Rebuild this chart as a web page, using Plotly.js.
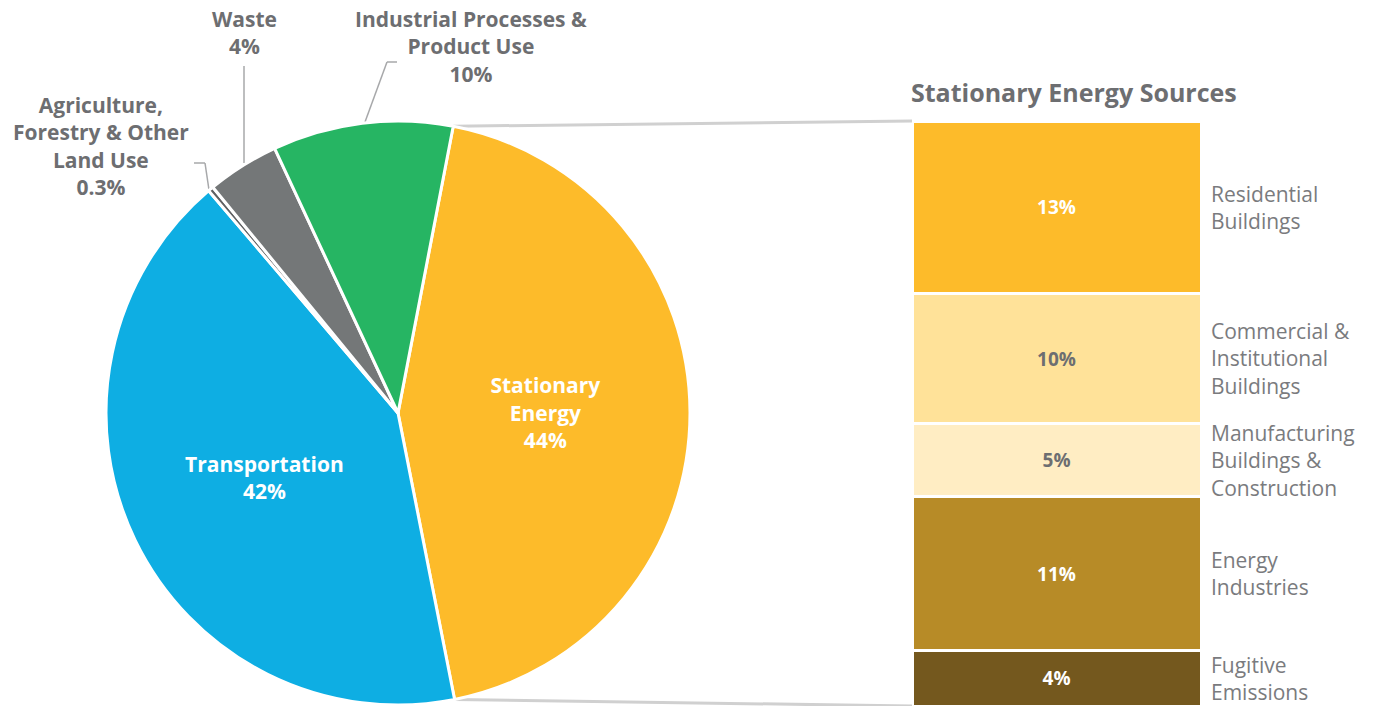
<!DOCTYPE html>
<html>
<head>
<meta charset="utf-8">
<script src="https://cdn.plot.ly/plotly-3.0.1.min.js"></script>
<style>html,body{margin:0;padding:0;background:#fff;}#chart{width:1378px;height:706px;}</style>
</head>
<body>
<div id="chart"></div>
<script>
// ---- Data ----
const pieLabels = ['Stationary Energy', 'Transportation', 'Agriculture, Forestry & Other Land Use', 'Waste', 'Industrial Processes & Product Use'];
const pieValues = [44, 42, 0.3, 4, 10];
const pieInsideText = ['Stationary<br>Energy<br>44%', 'Transportation<br>42%', '', '', ''];
const pieOutsideText = ['', '', 'Agriculture,<br>Forestry & Other<br>Land Use<br>0.3%', 'Waste<br>4%', 'Industrial Processes &<br>Product Use<br>10%'];
const pieColors = ['#FDBB2A', '#0EAEE3', '#5f6163', '#747778', '#26B563'];

const subLabels = ['Fugitive<br>Emissions', 'Energy<br>Industries', 'Manufacturing<br>Buildings &<br>Construction', 'Commercial &<br>Institutional<br>Buildings', 'Residential<br>Buildings'];
const subValues = [4.1, 11.3, 5.4, 9.6, 12.7];
const subColors = ['#74581E', '#B78B27', '#FFEDC3', '#FFE299', '#FDBB2A'];
const subTextColors = ['#ffffff', '#ffffff', '#6d6e71', '#6d6e71', '#ffffff'];
const subTitle = 'Stationary Energy Sources';

// ---- Layout helpers ----
const W = 1378, H = 706;
const px = x => x / W;
const py = y => 1 - y / H;
const FONT = '"Open Sans", Lato, sans-serif';
const GRAY = '#6d6e71';

const pieDom = {x: [px(106), px(690)], y: [py(705), py(121)]};
const rotation = 10.9;

const traces = [];
traces.push({
  type: 'pie',
  labels: pieLabels,
  values: pieValues,
  text: pieInsideText,
  textinfo: 'text',
  textposition: 'inside',
  insidetextorientation: 'horizontal',
  sort: false,
  direction: 'clockwise',
  rotation: rotation,
  domain: pieDom,
  marker: {colors: pieColors, line: {color: '#ffffff', width: 3}},
  textfont: {family: FONT, size: 21, color: '#ffffff', weight: 'bold'},
  hoverinfo: 'label+percent',
  showlegend: false
});

subValues.forEach((v, i) => {
  traces.push({
    type: 'bar',
    x: ['S'],
    y: [v],
    name: subLabels[i].replace(/<br>/g, ' '),
    text: [Math.round(v) + '%'],
    textposition: 'inside',
    insidetextanchor: 'middle',
    textangle: 0,
    textfont: {family: FONT, size: 19, color: subTextColors[i], weight: 'bold'},
    marker: {color: subColors[i], line: {color: '#ffffff', width: 3}},
    width: 1,
    xaxis: 'x',
    yaxis: 'y',
    showlegend: false,
    hoverinfo: 'name+y'
  });
});

const total = subValues.reduce((a, b) => a + b, 0);

// annotations
const annotations = [];
let cum = 0;
subValues.forEach((v, i) => {
  annotations.push({
    xref: 'paper', yref: 'y', x: px(1209), y: cum + v / 2,
    xanchor: 'left', yanchor: 'middle', align: 'left', showarrow: false,
    text: subLabels[i],
    font: {family: FONT, size: 21, color: '#7a7b7e'}
  });
  cum += v;
});
annotations.push({
  xref: 'paper', yref: 'paper', x: px(909), y: py(92), xanchor: 'left', yanchor: 'middle',
  showarrow: false, text: '<b>' + subTitle + '</b>',
  font: {family: FONT, size: 25, color: GRAY}
});
const outPos = [null, null, [101, 146], [244, 32], [471, 46]];
pieOutsideText.forEach((t, i) => {
  if (!t) return;
  annotations.push({
    xref: 'paper', yref: 'paper', x: px(outPos[i][0]), y: py(outPos[i][1]),
    xanchor: 'center', yanchor: 'middle', align: 'center', showarrow: false,
    text: '<b>' + t + '</b>',
    font: {family: FONT, size: 21, color: GRAY}
  });
});

// pie geometry for connector lines (derived from data)
const cx = (106 + 690) / 2, cy = (121 + 705) / 2, R = 292;
const sumPie = pieValues.reduce((a, b) => a + b, 0);
const a0 = rotation * Math.PI / 180;
const a1 = a0 + pieValues[0] / sumPie * 2 * Math.PI;
const pt = a => [cx + R * Math.sin(a), cy - R * Math.cos(a)];
const p0 = pt(a0), p1 = pt(a1);
const barLeft = 912;

const line = (x0, y0, x1, y1, color, width) => ({
  type: 'line', xref: 'paper', yref: 'paper',
  x0: px(x0), y0: py(y0), x1: px(x1), y1: py(y1),
  line: {color: color, width: width}, layer: 'below'
});
const shapes = [
  line(p0[0], p0[1], barLeft, 121, '#d0d0d0', 3),
  line(p1[0], p1[1], barLeft, 706, '#d0d0d0', 3),
  line(194, 163, 205, 163, '#a7a8aa', 1.5),
  line(205, 163, 209, 190, '#a7a8aa', 1.5),
  line(244, 66, 244, 163, '#a7a8aa', 1.5),
  line(387, 62, 397, 62, '#a7a8aa', 1.5),
  line(387, 62, 365, 122, '#a7a8aa', 1.5)
];

const layout = {
  width: W, height: H,
  margin: {l: 0, r: 0, t: 0, b: 0},
  paper_bgcolor: '#ffffff', plot_bgcolor: 'rgba(0,0,0,0)',
  barmode: 'stack',
  bargap: 0,
  font: {family: FONT, color: GRAY},
  xaxis: {domain: [px(912), px(1201)], range: [-0.5, 0.5], visible: false, fixedrange: true},
  yaxis: {domain: [0, py(121)], range: [0, total], visible: false, fixedrange: true},
  annotations: annotations,
  shapes: shapes,
  showlegend: false
};

Plotly.newPlot('chart', traces, layout, {displayModeBar: false, staticPlot: true});
</script>
</body>
</html>
